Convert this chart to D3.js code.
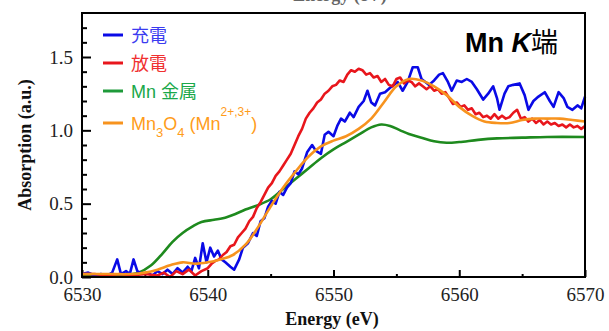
<!DOCTYPE html>
<html>
<head>
<meta charset="utf-8">
<script src="https://cdn.jsdelivr.net/npm/d3@7"></script>
<style>
  body { margin: 0; background: #fff; }
  svg { display: block; }
</style>
</head>
<body>
<svg width="609" height="331"></svg>
<script>
// Mn K-edge XANES, values as [energy (eV), absorption]
const charge = [
  [6530, 0.02], [6530.5, 0.03], [6531, 0.01], [6531.5, 0.02], [6532, 0.01], [6532.4, 0.03],
  [6532.8, 0.12], [6533.1, 0.02], [6533.5, 0.04], [6533.8, 0.02], [6534.1, 0.12], [6534.4, 0.04],
  [6534.8, 0.02], [6535.2, 0.03], [6535.6, 0.01], [6536, 0.04], [6536.4, 0.02], [6536.8, 0.05],
  [6537.2, 0.02], [6537.6, 0.06], [6538, 0.03], [6538.4, 0.07], [6538.7, 0.04], [6539, 0.13],
  [6539.3, 0.06], [6539.6, 0.23], [6539.9, 0.10], [6540.2, 0.20], [6540.5, 0.14], [6540.8, 0.18],
  [6541.1, 0.12], [6541.4, 0.10], [6541.8, 0.07], [6542.1, 0.05], [6542.5, 0.12], [6542.8, 0.20],
  [6543.2, 0.23], [6543.6, 0.30], [6543.9, 0.28], [6544.2, 0.38], [6544.5, 0.40], [6544.8, 0.48],
  [6545.1, 0.52], [6545.4, 0.50], [6545.7, 0.58], [6546, 0.56], [6546.3, 0.61], [6546.6, 0.64],
  [6546.9, 0.72], [6547.2, 0.70], [6547.5, 0.74], [6547.9, 0.85], [6548.3, 0.90], [6548.6, 0.86],
  [6549, 0.84], [6549.3, 0.97], [6549.6, 0.99], [6550, 0.96], [6550.3, 1.03], [6550.6, 1.08],
  [6550.9, 1.06], [6551.3, 1.12], [6551.6, 1.09], [6552, 1.16], [6552.4, 1.20], [6552.7, 1.27],
  [6553, 1.19], [6553.3, 1.17], [6553.7, 1.25], [6554.1, 1.26], [6554.5, 1.29], [6554.8, 1.31],
  [6555.1, 1.33], [6555.5, 1.27], [6555.9, 1.33], [6556.3, 1.43], [6556.7, 1.43], [6557, 1.35],
  [6557.3, 1.33], [6557.6, 1.31], [6558, 1.34], [6558.4, 1.38], [6558.7, 1.39], [6559.1, 1.33],
  [6559.4, 1.27], [6559.8, 1.34], [6560.2, 1.33], [6560.6, 1.35], [6561, 1.33], [6561.4, 1.28],
  [6561.9, 1.21], [6562.3, 1.25], [6562.7, 1.30], [6563, 1.22], [6563.2, 1.14], [6563.6, 1.25],
  [6563.9, 1.30], [6564.3, 1.31], [6564.8, 1.32], [6565.2, 1.24], [6565.5, 1.14], [6565.9, 1.20],
  [6566.3, 1.23], [6566.8, 1.26], [6567.2, 1.20], [6567.5, 1.16], [6567.9, 1.26], [6568.3, 1.22],
  [6568.6, 1.16], [6569, 1.14], [6569.4, 1.17], [6569.7, 1.15], [6570, 1.23]
];

const discharge = [
  [6530, 0.02], [6531, 0.02], [6532, 0.01], [6533, 0.02], [6534, 0.01], [6535, 0.02],
  [6536, 0.01], [6536.5, 0.03], [6537, 0.0], [6537.5, 0.04], [6538, 0.02], [6538.5, 0.05],
  [6539, 0.01], [6539.5, 0.04], [6540, 0.06], [6540.3, 0.09], [6540.6, 0.11], [6540.9, 0.12],
  [6541.2, 0.15], [6541.5, 0.17], [6541.8, 0.21], [6542.1, 0.22], [6542.4, 0.27], [6542.7, 0.30],
  [6543, 0.33], [6543.3, 0.38], [6543.6, 0.41], [6543.9, 0.47], [6544.2, 0.51], [6544.5, 0.56],
  [6544.8, 0.61], [6545.1, 0.64], [6545.4, 0.69], [6545.7, 0.72], [6546, 0.76], [6546.3, 0.80],
  [6546.6, 0.84], [6546.9, 0.90], [6547.2, 0.96], [6547.5, 1.01], [6547.8, 1.08], [6548.1, 1.12],
  [6548.4, 1.15], [6548.7, 1.19], [6549, 1.21], [6549.3, 1.25], [6549.6, 1.27], [6549.9, 1.30],
  [6550.2, 1.31], [6550.5, 1.34], [6550.8, 1.33], [6551.1, 1.38], [6551.4, 1.41], [6551.7, 1.40],
  [6552, 1.42], [6552.3, 1.41], [6552.6, 1.38], [6552.9, 1.39], [6553.2, 1.36], [6553.5, 1.37],
  [6553.8, 1.33], [6554.1, 1.35], [6554.4, 1.31], [6554.7, 1.30], [6555, 1.35], [6555.3, 1.36],
  [6555.6, 1.32], [6555.9, 1.34], [6556.2, 1.33], [6556.5, 1.30], [6556.8, 1.32], [6557.1, 1.30],
  [6557.4, 1.28], [6557.7, 1.30], [6558, 1.27], [6558.3, 1.28], [6558.6, 1.25], [6558.9, 1.26],
  [6559.2, 1.22], [6559.5, 1.18], [6559.8, 1.19], [6560.1, 1.16], [6560.4, 1.17], [6560.7, 1.14],
  [6561, 1.15], [6561.3, 1.11], [6561.6, 1.12], [6561.9, 1.09], [6562.2, 1.10], [6562.5, 1.08],
  [6562.8, 1.11], [6563.1, 1.08], [6563.4, 1.10], [6563.7, 1.08], [6564, 1.09], [6564.3, 1.12],
  [6564.6, 1.14], [6564.9, 1.08], [6565.2, 1.09], [6565.5, 1.06], [6565.8, 1.08], [6566.1, 1.05],
  [6566.4, 1.07], [6566.7, 1.04], [6567, 1.06], [6567.3, 1.04], [6567.6, 1.05], [6567.9, 1.03],
  [6568.2, 1.04], [6568.5, 1.02], [6568.8, 1.04], [6569.1, 1.02], [6569.4, 1.03], [6569.7, 1.01],
  [6570, 1.03]
];

const mnMetal = [
  [6530, 0.01], [6532, 0.01], [6533.5, 0.015], [6534.5, 0.03], [6535.5, 0.08], [6536.4, 0.16],
  [6537.2, 0.24], [6538, 0.30], [6538.8, 0.345], [6539.5, 0.375], [6540.5, 0.39], [6541.2, 0.40],
  [6542.2, 0.43], [6543, 0.46], [6544, 0.49], [6545, 0.53], [6546, 0.60], [6547, 0.67],
  [6548, 0.74], [6549, 0.81], [6550, 0.87], [6551, 0.92], [6552, 0.97], [6553, 1.02],
  [6553.8, 1.04], [6554.5, 1.03], [6555.3, 1.0], [6556, 0.975], [6557, 0.95], [6558, 0.925],
  [6559, 0.915], [6560, 0.92], [6561.5, 0.935], [6563, 0.945], [6565, 0.95], [6567, 0.955],
  [6570, 0.955]
];

const mn3o4 = [
  [6530, 0.02], [6532, 0.02], [6534, 0.02], [6535, 0.03], [6536, 0.05], [6537, 0.08],
  [6538, 0.10], [6539, 0.09], [6540, 0.10], [6541, 0.12], [6542, 0.15], [6543, 0.22],
  [6544, 0.34], [6545, 0.48], [6546, 0.61], [6547, 0.72], [6548, 0.82], [6549, 0.89],
  [6550, 0.93], [6551, 0.96], [6552, 1.01], [6553, 1.08], [6554, 1.19], [6555, 1.30],
  [6556, 1.35], [6557, 1.34], [6558, 1.30], [6559, 1.24], [6560, 1.16], [6561, 1.10],
  [6562, 1.06], [6563, 1.05], [6564, 1.05], [6565, 1.07], [6566, 1.08], [6567, 1.08],
  [6568, 1.08], [6569, 1.07], [6570, 1.06]
];

const xMajor = [6530, 6540, 6550, 6560, 6570];
const xMinor = [6535, 6545, 6555, 6565];
const yMajor = [0, 0.5, 1.0, 1.5];
const yMinor = [0.1, 0.2, 0.3, 0.4, 0.6, 0.7, 0.8, 0.9, 1.1, 1.2, 1.3, 1.4, 1.6, 1.7];

const svg = d3.select('svg');

const x = d3.scaleLinear().domain([6530, 6570]).range([82, 585]);
const y = d3.scaleLinear().domain([0, 1.8]).range([277, 13]);

const serif = '"Liberation Serif", "Times New Roman", serif';
const sans = '"Liberation Sans", Arial, "Noto Sans CJK JP", sans-serif';

// heading of the panel, clipped by the top edge as in the source
svg.append('text')
    .attr('x', 340)
    .attr('y', 0.5)
    .attr('text-anchor', 'middle')
    .attr('font-family', serif)
    .attr('font-weight', 'bold')
    .attr('font-size', 18)
    .attr('fill', '#666')
    .text('Energy (eV)');

// axes, ticks point inward
svg.append('g').attr('transform', `translate(0, ${y(0)})`)
    .call(d3.axisBottom(x).tickValues(xMajor).tickFormat(d3.format('d'))
      .tickSizeInner(-7).tickSizeOuter(0).tickPadding(11));
svg.append('g').attr('transform', `translate(0, ${y(0)})`)
    .call(d3.axisBottom(x).tickValues(xMinor).tickFormat('').tickSizeInner(-3).tickSizeOuter(0));

svg.append('g').attr('transform', `translate(${x(6530)}, 0)`)
    .call(d3.axisLeft(y).tickValues(yMajor).tickFormat(d3.format('.1f'))
      .tickSizeInner(-9).tickSizeOuter(0).tickPadding(9));
svg.append('g').attr('transform', `translate(${x(6530)}, 0)`)
    .call(d3.axisLeft(y).tickValues(yMinor).tickFormat('').tickSizeInner(-5).tickSizeOuter(0));

svg.selectAll('.domain').remove();
svg.selectAll('.tick line').attr('stroke', '#000').attr('stroke-width', 2);
svg.selectAll('.tick text')
    .attr('font-family', serif)
    .attr('font-size', 19)
    .attr('fill', '#222');

// curves
const rough = d3.line().x(d => x(d[0])).y(d => y(d[1]));
const smooth = d3.line().x(d => x(d[0])).y(d => y(d[1])).curve(d3.curveCatmullRom);

const curves = [
  { data: mnMetal, color: '#1e8a1e', line: smooth },
  { data: charge, color: '#0a0ae6', line: rough },
  { data: discharge, color: '#e8161c', line: rough },
  { data: mn3o4, color: '#f7931e', line: smooth }
];

svg.append('g')
  .selectAll('path')
  .data(curves)
  .join('path')
    .attr('d', d => d.line(d.data))
    .attr('fill', 'none')
    .attr('stroke', d => d.color)
    .attr('stroke-width', 2.6)
    .attr('stroke-linejoin', 'round');

// frame
svg.append('rect')
    .attr('x', x(6530))
    .attr('y', y(1.8))
    .attr('width', x(6570) - x(6530))
    .attr('height', y(0) - y(1.8))
    .attr('fill', 'none')
    .attr('stroke', '#000')
    .attr('stroke-width', 2);

// axis titles
svg.append('text')
    .attr('x', 332)
    .attr('y', 325)
    .attr('text-anchor', 'middle')
    .attr('font-family', serif)
    .attr('font-weight', 'bold')
    .attr('font-size', 18)
    .attr('fill', '#111')
    .text('Energy (eV)');

svg.append('text')
    .attr('transform', `translate(31, ${(y(0) + y(1.8)) / 2}) rotate(-90)`)
    .attr('text-anchor', 'middle')
    .attr('font-family', serif)
    .attr('font-weight', 'bold')
    .attr('font-size', 18)
    .attr('fill', '#111')
    .text('Absorption (a.u.)');

// edge label
const edge = svg.append('text')
    .attr('x', 558)
    .attr('y', 52)
    .attr('text-anchor', 'end')
    .attr('font-family', sans)
    .attr('font-weight', 'bold')
    .attr('font-size', 27)
    .attr('fill', '#000');
edge.append('tspan').text('Mn ');
edge.append('tspan').attr('font-style', 'italic').text('K');
edge.append('tspan').attr('font-family', '"Noto Sans CJK JP", sans-serif').attr('font-weight', 'normal').text('端');

// legend
const legend = [
  { color: '#0a0ae6', text: '#3b3bf0', y: 35 },
  { color: '#e8161c', text: '#f03030', y: 63 },
  { color: '#1e9a3a', text: '#1aa84a', y: 91 },
  { color: '#f7931e', text: '#ff9c1a', y: 123 }
];

const legendG = svg.append('g');
legendG.selectAll('line')
  .data(legend)
  .join('line')
    .attr('x1', 103)
    .attr('x2', 123)
    .attr('y1', d => d.y)
    .attr('y2', d => d.y)
    .attr('stroke', d => d.color)
    .attr('stroke-width', 3);

const lt = (d) => legendG.append('text')
    .attr('x', 131)
    .attr('y', d.y + 7)
    .attr('font-family', sans)
    .attr('font-size', 18)
    .attr('fill', d.text);

lt(legend[0]).text('充電');
lt(legend[1]).text('放電');
lt(legend[2]).text('Mn 金属');

const l4 = lt(legend[3]);
l4.append('tspan').text('Mn');
l4.append('tspan').attr('font-size', 13).attr('dy', 7).text('3');
l4.append('tspan').attr('dy', -7).text('O');
l4.append('tspan').attr('font-size', 13).attr('dy', 7).text('4');
l4.append('tspan').attr('dy', -7).text(' (Mn');
l4.append('tspan').attr('font-size', 12).attr('dy', -14).text('2+,3+');
l4.append('tspan').attr('dy', 14).text(')');
</script>
</body>
</html>
